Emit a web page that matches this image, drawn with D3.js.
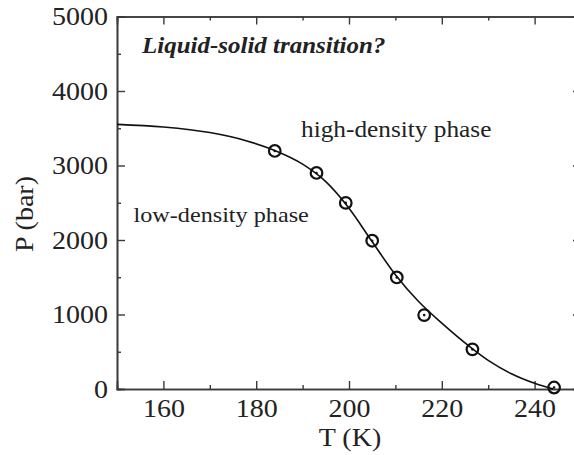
<!DOCTYPE html>
<html><head><meta charset="utf-8">
<script src="https://cdn.jsdelivr.net/npm/d3@7"></script>
<style>body{margin:0;background:#fff}svg{display:block}</style>
</head><body><svg id="c" width="574" height="455"></svg>
<script>
// ---- data ----
const pointT = [184, 193, 199.3, 205, 210.3, 216.2, 226.6, 244.2];
const pointP = [3195, 2900, 2498, 1990, 1497, 992, 532, 20];
const curveT = [150, 160, 170, 178, 184, 190, 195, 200, 205, 210, 215, 220, 225, 230, 235, 240, 244];
const curveP = [3552, 3517, 3442, 3330, 3201, 3018, 2783, 2426, 1976, 1534, 1174, 884, 619, 384, 204, 76, 0];
const xMajorTicks = [160, 180, 200, 220, 240];
const xMinorTicks = [170, 190, 210, 230];
const yMajorTicks = [0, 1000, 2000, 3000, 4000, 5000];
const yMinorTicks = [500, 1500, 2500, 3500, 4500];
const xTitle = "T (K)";
const yTitle = "P (bar)";
const titleText = "Liquid-solid transition?";
const highLabel = "high-density phase";
const lowLabel = "low-density phase";

// ---- drawing ----
const svg = d3.select("#c");
const L = 117, R = 581, T = 16.5, B = 389;
const x = d3.scaleLinear().domain([150, 250]).range([L, R]);
const y = d3.scaleLinear().domain([0, 5000]).range([B, T]);
const axisColor = "#3a3a3a", textColor = "#222";
const FONT = '"Liberation Serif"';
const SX = 1.12;

function styleAxis(g) {
  g.attr("font-family", null).attr("font-size", null);
  g.select(".domain").attr("stroke", axisColor).attr("stroke-width", 1.6);
  g.selectAll(".tick line").attr("stroke", axisColor).attr("stroke-width", 1.4);
  g.selectAll(".tick text").attr("fill", textColor).style("font-family", FONT).style("font-size", "25px");
}

// bottom
const gb = svg.append("g").attr("transform", `translate(0,${B})`)
  .call(d3.axisBottom(x).tickValues(xMajorTicks).tickSize(-8).tickPadding(10).tickFormat(d3.format("d")));
styleAxis(gb);
gb.selectAll(".tick text").attr("transform", `scale(${SX},1)`);
const gbm = svg.append("g").attr("transform", `translate(0,${B})`)
  .call(d3.axisBottom(x).tickValues(xMinorTicks).tickSize(-4).tickFormat(""));
styleAxis(gbm);
// top
const gt = svg.append("g").attr("transform", `translate(0,${T})`)
  .call(d3.axisTop(x).tickValues(xMajorTicks).tickSize(-8).tickFormat(""));
styleAxis(gt);
const gtm = svg.append("g").attr("transform", `translate(0,${T})`)
  .call(d3.axisTop(x).tickValues(xMinorTicks).tickSize(-4).tickFormat(""));
styleAxis(gtm);
// left
const gl = svg.append("g").attr("transform", `translate(${L},0)`)
  .call(d3.axisLeft(y).tickValues(yMajorTicks).tickSize(-8).tickPadding(9).tickFormat(d3.format("d")));
styleAxis(gl);
gl.selectAll(".tick text").attr("x", 0).attr("transform", `translate(-9,0) scale(${SX},1)`);
const glm = svg.append("g").attr("transform", `translate(${L},0)`)
  .call(d3.axisLeft(y).tickValues(yMinorTicks).tickSize(-4).tickFormat(""));
styleAxis(glm);
// right
const gr = svg.append("g").attr("transform", `translate(${R},0)`)
  .call(d3.axisRight(y).tickValues(yMajorTicks).tickSize(-8).tickFormat(""));
styleAxis(gr);
const grm = svg.append("g").attr("transform", `translate(${R},0)`)
  .call(d3.axisRight(y).tickValues(yMinorTicks).tickSize(-4).tickFormat(""));
styleAxis(grm);

// curve
const curveData = curveT.map((t, i) => [t, curveP[i]]);
svg.append("path").datum(curveData)
  .attr("fill", "none").attr("stroke", "#111").attr("stroke-width", 1.6)
  .attr("d", d3.line().x(d => x(d[0])).y(d => y(d[1])).curve(d3.curveMonotoneX));

// points
const pts = pointT.map((t, i) => [t, pointP[i]]);
svg.append("g").selectAll("circle").data(pts).join("circle")
  .attr("cx", d => x(d[0])).attr("cy", d => y(d[1])).attr("r", 5.8)
  .attr("fill", "none").attr("stroke", "#111").attr("stroke-width", 2.2);
svg.append("g").selectAll("circle").data(pts).join("circle")
  .attr("cx", d => x(d[0])).attr("cy", d => y(d[1])).attr("r", 1.3)
  .attr("fill", "#111");

// labels
function label(txt, px, py, size, rot, extra) {
  const t = svg.append("text")
    .attr("transform", `translate(${px},${py})${rot ? " rotate(-90)" : ""} scale(${SX},1)`)
    .text(txt).attr("fill", textColor)
    .style("font-family", FONT).style("font-size", size + "px");
  if (extra) extra(t);
  return t;
}
label(titleText, 142, 53, 22.3, false, t => t.style("font-weight", "bold").style("font-style", "italic"));
label(highLabel, 301, 137, 22.6);
label(lowLabel, 133.5, 222, 21.6);
label(xTitle, 350, 446, 25, false, t => t.attr("text-anchor", "middle"));
label(yTitle, 33, 214, 25, true, t => t.attr("text-anchor", "middle"));
</script></body></html>
